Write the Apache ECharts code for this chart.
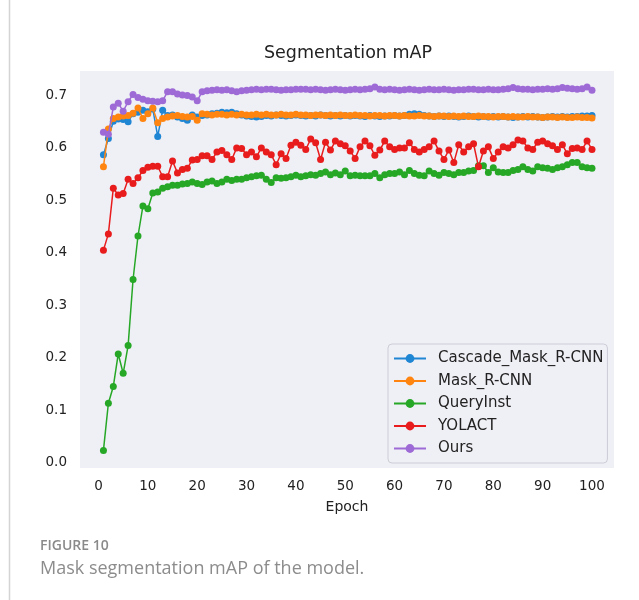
<!DOCTYPE html>
<html>
<head>
<meta charset="utf-8">
<script src="https://cdn.jsdelivr.net/npm/echarts@6/dist/echarts.min.js"></script>
<style>
  html, body { margin: 0; padding: 0; background: #fff; }
  #chart { width: 639px; height: 600px; }
</style>
</head>
<body>
<div id="chart"></div>
<script>
// epochs 1..100
const epochs = Array.from({ length: 100 }, (_, i) => i + 1);

const cascadeMaskRcnn = [
  0.587, 0.618, 0.651, 0.655, 0.654, 0.650, 0.665, 0.668, 0.672, 0.669,
  0.674, 0.622, 0.672, 0.662, 0.663, 0.659, 0.656, 0.653, 0.663, 0.659,
  0.662, 0.663, 0.665, 0.666, 0.668, 0.667, 0.668, 0.665, 0.663, 0.661,
  0.660, 0.659, 0.660, 0.662, 0.661, 0.663, 0.662, 0.661, 0.662, 0.663,
  0.662, 0.661, 0.662, 0.661, 0.663, 0.662, 0.661, 0.662, 0.661, 0.662,
  0.661, 0.662, 0.661, 0.660, 0.662, 0.661, 0.660, 0.661, 0.661, 0.662,
  0.661, 0.662, 0.664, 0.665, 0.664, 0.662, 0.661, 0.660, 0.661, 0.660,
  0.661, 0.660, 0.659, 0.660, 0.661, 0.660, 0.659, 0.660, 0.659, 0.660,
  0.659, 0.660, 0.659, 0.658, 0.659, 0.660, 0.659, 0.660, 0.659, 0.658,
  0.659, 0.660, 0.659, 0.660, 0.659, 0.660, 0.660, 0.661, 0.661, 0.662
];

const maskRcnn = [
  0.564, 0.636, 0.656, 0.659, 0.661, 0.662, 0.666, 0.676, 0.656, 0.665,
  0.676, 0.648, 0.656, 0.659, 0.661, 0.662, 0.660, 0.659, 0.660, 0.653,
  0.665, 0.664, 0.663, 0.664, 0.664, 0.663, 0.664, 0.663, 0.664, 0.663,
  0.663, 0.664, 0.663, 0.664, 0.663, 0.663, 0.664, 0.663, 0.663, 0.664,
  0.663, 0.663, 0.662, 0.663, 0.663, 0.662, 0.663, 0.662, 0.663, 0.662,
  0.662, 0.663, 0.662, 0.662, 0.661, 0.662, 0.662, 0.661, 0.662, 0.662,
  0.661, 0.662, 0.661, 0.661, 0.662, 0.661, 0.661, 0.660, 0.661, 0.661,
  0.660, 0.661, 0.660, 0.661, 0.660, 0.660, 0.661, 0.660, 0.660, 0.659,
  0.660, 0.660, 0.659, 0.660, 0.659, 0.659, 0.660, 0.659, 0.659, 0.658,
  0.659, 0.659, 0.658, 0.659, 0.658, 0.658, 0.659, 0.658, 0.658, 0.657
];

const queryInst = [
  0.023, 0.113, 0.145, 0.207, 0.170, 0.223, 0.349, 0.432, 0.489, 0.484,
  0.514, 0.516, 0.523, 0.526, 0.529, 0.529, 0.531, 0.532, 0.535, 0.532,
  0.530, 0.535, 0.537, 0.532, 0.535, 0.540, 0.538, 0.540, 0.540, 0.543,
  0.545, 0.547, 0.548, 0.540, 0.534, 0.543, 0.542, 0.543, 0.545, 0.548,
  0.545, 0.547, 0.549, 0.548, 0.551, 0.554, 0.549, 0.552, 0.549, 0.556,
  0.547, 0.548, 0.547, 0.547, 0.547, 0.551, 0.543, 0.549, 0.551, 0.551,
  0.554, 0.549, 0.557, 0.551, 0.548, 0.547, 0.556, 0.551, 0.548, 0.553,
  0.551, 0.549, 0.553, 0.553, 0.556, 0.557, 0.566, 0.566, 0.553, 0.562,
  0.554, 0.553, 0.553, 0.557, 0.559, 0.564, 0.559, 0.556, 0.564, 0.562,
  0.561, 0.559, 0.562, 0.564, 0.568, 0.572, 0.572, 0.564, 0.562, 0.561
];

const yolact = [
  0.405, 0.436, 0.523, 0.510, 0.513, 0.540, 0.532, 0.543, 0.557, 0.563,
  0.565, 0.565, 0.545, 0.545, 0.575, 0.552, 0.559, 0.561, 0.577, 0.578,
  0.585, 0.585, 0.578, 0.592, 0.595, 0.587, 0.578, 0.600, 0.599, 0.587,
  0.592, 0.583, 0.600, 0.592, 0.587, 0.568, 0.589, 0.580, 0.605, 0.611,
  0.605, 0.597, 0.617, 0.610, 0.578, 0.611, 0.596, 0.613, 0.608, 0.604,
  0.594, 0.580, 0.602, 0.613, 0.604, 0.586, 0.596, 0.613, 0.602, 0.597,
  0.600, 0.600, 0.610, 0.597, 0.592, 0.597, 0.602, 0.613, 0.594, 0.578,
  0.596, 0.572, 0.606, 0.592, 0.602, 0.608, 0.564, 0.594, 0.602, 0.580,
  0.592, 0.602, 0.600, 0.606, 0.615, 0.613, 0.600, 0.597, 0.611, 0.613,
  0.608, 0.604, 0.597, 0.606, 0.589, 0.599, 0.600, 0.597, 0.613, 0.597
];

const ours = [
  0.630, 0.626, 0.678, 0.685, 0.670, 0.688, 0.702, 0.696, 0.693, 0.690,
  0.689, 0.688, 0.690, 0.707, 0.707, 0.703, 0.701, 0.700, 0.697, 0.690,
  0.707, 0.709, 0.710, 0.711, 0.710, 0.711, 0.709, 0.707, 0.709, 0.710,
  0.711, 0.712, 0.711, 0.712, 0.712, 0.711, 0.710, 0.711, 0.711, 0.712,
  0.712, 0.712, 0.711, 0.712, 0.711, 0.710, 0.711, 0.712, 0.711, 0.710,
  0.711, 0.712, 0.711, 0.712, 0.713, 0.716, 0.712, 0.711, 0.712, 0.711,
  0.710, 0.711, 0.712, 0.711, 0.710, 0.711, 0.712, 0.711, 0.711, 0.712,
  0.711, 0.710, 0.711, 0.711, 0.712, 0.712, 0.711, 0.711, 0.712, 0.711,
  0.711, 0.712, 0.713, 0.715, 0.713, 0.712, 0.712, 0.711, 0.712, 0.712,
  0.713, 0.712, 0.713, 0.715, 0.714, 0.713, 0.712, 0.713, 0.716, 0.710
];

const seriesNames = ["Cascade_Mask_R-CNN", "Mask_R-CNN", "QueryInst", "YOLACT", "Ours"];
const seriesColors = ["#1f86d4", "#ff8510", "#26a826", "#e81c1c", "#9d6ad6"];
const seriesValues = [cascadeMaskRcnn, maskRcnn, queryInst, yolact, ours];

const xTicks = [0, 10, 20, 30, 40, 50, 60, 70, 80, 90, 100];
const yTicks = [0, 0.1, 0.2, 0.3, 0.4, 0.5, 0.6, 0.7];

const FONT = "DejaVu Sans";

const chart = echarts.init(document.getElementById("chart"));

const option = {
  animation: false,
  title: {
    text: "Segmentation mAP",
    left: 348,
    top: 44,
    textAlign: "center",
    padding: 0,
    textStyle: {
      fontFamily: FONT,
      fontSize: 17.5,
      fontWeight: "normal",
      color: "#222",
    },
  },
  grid: {
    left: 80,
    right: 25,
    top: 71,
    bottom: 132,
    show: true,
    backgroundColor: "#efeff6",
    borderWidth: 0,
  },
  legend: {
    orient: "vertical",
    left: 388,
    top: 344,
    padding: [7, 4, 7, 5],
    itemWidth: 32,
    itemHeight: 11,
    itemGap: 7.5,
    backgroundColor: "#efeff6",
    borderColor: "#cdcdd6",
    borderWidth: 1,
    borderRadius: 4,
    data: seriesNames,
    textStyle: {
      fontFamily: FONT,
      fontSize: 15,
      color: "#222",
      padding: [0, 0, 0, 7],
    },
  },
  xAxis: {
    type: "value",
    min: -3.75,
    max: 104.46,
    name: "Epoch",
    nameLocation: "middle",
    nameGap: 32,
    nameTextStyle: {
      fontFamily: FONT,
      fontSize: 14,
      color: "#222",
    },
    axisLine: { show: false },
    axisTick: { show: false },
    splitLine: { show: false },
    axisLabel: {
      customValues: xTicks,
      margin: 11,
      fontFamily: FONT,
      fontSize: 13.5,
      color: "#222",
    },
  },
  yAxis: {
    type: "value",
    min: -0.0105,
    max: 0.7467,
    axisLine: { show: false },
    axisTick: { show: false },
    splitLine: { show: false },
    axisLabel: {
      customValues: yTicks,
      margin: 13,
      fontFamily: FONT,
      fontSize: 13.5,
      color: "#222",
      formatter: (v) => v.toFixed(1),
    },
  },
  series: seriesNames.map((name, i) => ({
    name: name,
    type: "line",
    data: epochs.map((e, j) => [e, seriesValues[i][j]]),
    symbol: "circle",
    symbolSize: 7,
    showSymbol: true,
    lineStyle: { width: 1.5, color: seriesColors[i] },
    itemStyle: { color: seriesColors[i] },
    z: 2 + i,
  })),
  graphic: [
    {
      type: "line",
      shape: { x1: 9.5, y1: 0, x2: 9.5, y2: 600 },
      style: { stroke: "#d4d4d4", lineWidth: 1.5 },
    },
    {
      type: "text",
      left: 40,
      top: 539,
      style: {
        text: "FIGURE 10",
        font: "600 14px 'Open Sans'",
        fill: "#8a8a8a",
      },
    },
    {
      type: "text",
      left: 40,
      top: 560,
      style: {
        text: "Mask segmentation mAP of the model.",
        font: "18px 'Open Sans'",
        fill: "#8c8c8c",
      },
    },
  ],
};

chart.setOption(option);
</script>
</body>
</html>
